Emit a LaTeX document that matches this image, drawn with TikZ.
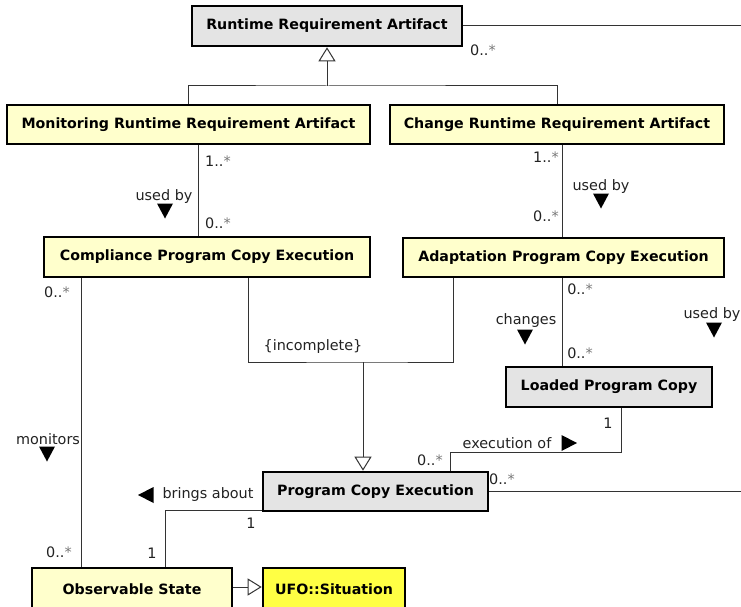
\documentclass[tikz,border=0pt]{standalone}
\usepackage{fontspec}
\setmainfont{DejaVu Sans}
\usetikzlibrary{arrows.meta,calc}

\definecolor{boxgray}{HTML}{E4E4E4}
\definecolor{paleyellow}{HTML}{FFFFCC}
\definecolor{brightyellow}{HTML}{FFFF44}
\definecolor{linegray}{HTML}{333333}
\definecolor{inkgray}{HTML}{222222}
\definecolor{stargray}{HTML}{777777}

% multiplicity "0..*" with the lighter star
\newcommand{\manystar}{\textcolor{stargray}{*}}

\begin{document}
\begin{tikzpicture}[x=1pt,y=-1pt,
  classbox/.style={draw=black, line width=2.6pt, rectangle, inner sep=0pt,
    font=\fontsize{14.2}{16}\selectfont\bfseries, text=black},
  graybox/.style={classbox, fill=boxgray},
  ybox/.style={classbox, fill=paleyellow},
  conn/.style={draw=linegray, line width=1pt},
  gen/.style={conn, -{Triangle[open, length=14pt, width=17pt, fill=white]}},
  lbl/.style={font=\fontsize{14.4}{16}\selectfont, text=inkgray, inner sep=0pt},
  mult/.style={lbl},
  tridn/.pic={\fill[black] (-8,-7.5) -- (8,-7.5) -- (0,7.5) -- cycle;},
  trirt/.pic={\fill[black] (-7.5,-8) -- (-7.5,8) -- (8,0) -- cycle;},
  trilt/.pic={\fill[black] (7.5,-8) -- (7.5,8) -- (-8,0) -- cycle;},
]
\useasboundingbox (0,0) rectangle (741,607);
\clip (0,0) rectangle (741,607);

% ---- classes ----
\node[graybox, minimum width=270pt, minimum height=40pt] (rra) at (327,26) {Runtime Requirement Artifact};
\node[ybox, minimum width=363pt, minimum height=39pt] (mrra) at (188.5,124.5) {Monitoring Runtime Requirement Artifact};
\node[ybox, minimum width=334pt, minimum height=39pt] (cra) at (557,124.5) {Change Runtime Requirement Artifact};
\node[ybox, minimum width=326pt, minimum height=40pt] (cpce) at (207,257) {Compliance Program Copy Execution};
\node[ybox, minimum width=321pt, minimum height=39pt] (apce) at (563.5,257.5) {Adaptation Program Copy Execution};
\node[graybox, minimum width=206pt, minimum height=40pt] (lpc) at (609,387) {Loaded Program Copy};
\node[graybox, minimum width=225pt, minimum height=39pt] (pce) at (375.5,491.5) {Program Copy Execution};
\node[ybox, minimum width=200pt, minimum height=42pt] (os) at (132,589) {Observable State};
\node[classbox, fill=brightyellow, minimum width=142pt, minimum height=42pt] (ufo) at (334,589) {UFO::Situation};

\coordinate (edgeR) at (741,0);

% ---- association leaving to the right from Runtime Requirement Artifact ----
\draw[conn] (rra.east) -- (rra.east -| edgeR);
\node[mult] at (483,50) {0..\manystar};

% ---- generalization of the two artifact kinds ----
\coordinate (gj) at (rra.south |- 0,86);
\draw[conn] (mrra.north) |- (gj) -| (cra.north);
\draw[gen] (gj) -- (rra.south);

% ---- monitoring artifact used by compliance execution ----
\coordinate (u1) at ([xshift=10pt]mrra.south);
\draw[conn] (u1) -- (u1 |- cpce.north);
\node[mult] at (218,161) {1..\manystar};
\node[lbl] at (164,197) {used by};
\pic at (165,211) {tridn};
\node[mult] at (218,223) {0..\manystar};

% ---- change artifact used by adaptation execution ----
\coordinate (u2) at ([xshift=5pt]cra.south);
\draw[conn] (u2) -- (u2 |- apce.north);
\node[mult] at (546,157) {1..\manystar};
\node[lbl] at (601,187) {used by};
\pic at (601,201) {tridn};
\node[mult] at (546,216) {0..\manystar};

% ---- compliance execution monitors observable state ----
\coordinate (m1) at ([xshift=39pt]cpce.south west);
\draw[conn] (m1) -- (m1 |- os.north);
\node[mult] at (57,292) {0..\manystar};
\node[lbl] at (48,439) {monitors};
\pic at (47,454) {tridn};
\node[mult] at (59,552) {0..\manystar};

% ---- incomplete generalization to Program Copy Execution ----
\coordinate (c1) at ([xshift=41pt]cpce.south);
\coordinate (a1) at ([xshift=-110.5pt]apce.south);
\coordinate (ij) at (363,362);
\draw[conn] (c1) |- (ij) -| (a1);
\draw[gen] (ij) -- (ij |- pce.north);
\node[lbl] at (313,347) {\{incomplete\}};

% ---- adaptation execution changes loaded copy ----
\coordinate (a2) at ([xshift=-1.5pt]apce.south);
\draw[conn] (a2) -- (a2 |- lpc.north);
\node[mult] at (580,289) {0..\manystar};
\node[lbl] at (526,321) {changes};
\pic at (525,337) {tridn};
\node[mult] at (580,353) {0..\manystar};

% ---- detached role label ----
\node[lbl] at (712,315) {used by};
\pic at (714,330) {tridn};

% ---- execution of loaded copy ----
\coordinate (l1) at ([xshift=12pt]lpc.south);
\coordinate (p1) at ([xshift=74.5pt]pce.north);
\coordinate (ej) at (p1 |- 0,452);
\draw[conn] (l1) |- (ej) -- (p1);
\node[mult] at (608,423) {1};
\node[lbl] at (507,443) {execution of};
\pic at (569,443) {trirt};
\node[mult] at (430,460) {0..\manystar};

% ---- association leaving to the right from Program Copy Execution ----
\draw[conn] (pce.east) -- (pce.east -| edgeR);
\node[mult] at (502,479) {0..\manystar};

% ---- execution brings about observable state ----
\coordinate (p2) at ([yshift=2pt]pce.south west);
\coordinate (o1) at ([xshift=135pt]os.north west);
\draw[conn] (p2) -| (o1);
\node[lbl] at (208,495) {brings about};
\pic at (146,495) {trilt};
\node[mult] at (251,523) {1};
\node[mult] at (152,553) {1};

% ---- observable state is a situation ----
\draw[gen] ([yshift=2pt]os.east) -- ([yshift=2pt]ufo.west);
\end{tikzpicture}
\end{document}
